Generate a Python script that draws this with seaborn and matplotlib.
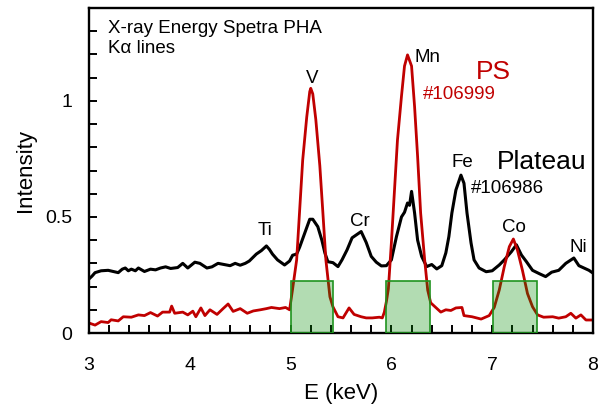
import matplotlib
matplotlib.use("Agg")
import matplotlib.pyplot as plt
from matplotlib.patches import Rectangle
from matplotlib.ticker import MultipleLocator, FixedLocator
import pandas as pd
import seaborn as sns

# ---------------- data ----------------
energy_plateau = [3.00, 3.03, 3.06, 3.12, 3.19, 3.24, 3.29, 3.33, 3.36, 3.39, 3.42, 3.46,
                  3.49, 3.55, 3.61, 3.66, 3.71, 3.76, 3.81, 3.88, 3.93, 3.98, 4.05, 4.10,
                  4.17, 4.22, 4.28, 4.34, 4.40, 4.45, 4.50, 4.55, 4.59, 4.66, 4.71, 4.76,
                  4.79, 4.82, 4.87, 4.94, 4.99, 5.02, 5.06, 5.09, 5.14, 5.19, 5.22, 5.27,
                  5.31, 5.34, 5.37, 5.42, 5.47, 5.51, 5.56, 5.61, 5.66, 5.70, 5.75, 5.80,
                  5.85, 5.90, 5.95, 6.00, 6.05, 6.10, 6.13, 6.16, 6.18, 6.20, 6.23, 6.26,
                  6.30, 6.35, 6.40, 6.45, 6.50, 6.54, 6.57, 6.60, 6.64, 6.69, 6.72, 6.75,
                  6.79, 6.82, 6.87, 6.94, 7.00, 7.07, 7.12, 7.19, 7.24, 7.29, 7.34, 7.40,
                  7.47, 7.53, 7.59, 7.66, 7.73, 7.81, 7.86, 7.91, 7.96, 8.00]
intensity_plateau = [0.233, 0.245, 0.260, 0.268, 0.270, 0.265, 0.260, 0.275, 0.280, 0.268, 0.275, 0.268,
                     0.280, 0.265, 0.275, 0.272, 0.280, 0.285, 0.278, 0.282, 0.300, 0.280, 0.305, 0.300,
                     0.280, 0.285, 0.300, 0.295, 0.290, 0.300, 0.292, 0.300, 0.310, 0.340, 0.355, 0.375,
                     0.360, 0.340, 0.315, 0.293, 0.310, 0.335, 0.340, 0.370, 0.430, 0.490, 0.490, 0.458,
                     0.400, 0.345, 0.307, 0.303, 0.286, 0.315, 0.358, 0.410, 0.425, 0.437, 0.390, 0.330,
                     0.305, 0.289, 0.290, 0.315, 0.415, 0.500, 0.520, 0.560, 0.550, 0.610, 0.517, 0.400,
                     0.330, 0.286, 0.295, 0.276, 0.290, 0.345, 0.415, 0.517, 0.616, 0.680, 0.645, 0.517,
                     0.388, 0.315, 0.280, 0.264, 0.268, 0.293, 0.315, 0.350, 0.380, 0.336, 0.307, 0.270,
                     0.255, 0.243, 0.262, 0.270, 0.300, 0.323, 0.290, 0.280, 0.270, 0.258]

energy_ps = [3.00, 3.06, 3.12, 3.19, 3.22, 3.29, 3.34, 3.42, 3.49, 3.55, 3.61, 3.68,
             3.73, 3.80, 3.82, 3.85, 3.93, 3.98, 4.03, 4.06, 4.11, 4.15, 4.20, 4.27,
             4.33, 4.38, 4.43, 4.50, 4.57, 4.63, 4.70, 4.76, 4.81, 4.89, 4.95, 4.99,
             5.02, 5.06, 5.09, 5.12, 5.16, 5.19, 5.20, 5.22, 5.25, 5.29, 5.32, 5.35,
             5.39, 5.42, 5.47, 5.52, 5.58, 5.63, 5.70, 5.75, 5.81, 5.88, 5.91, 5.93,
             5.95, 5.97, 6.00, 6.03, 6.06, 6.10, 6.13, 6.16, 6.20, 6.23, 6.26, 6.29,
             6.33, 6.36, 6.39, 6.44, 6.49, 6.54, 6.59, 6.64, 6.70, 6.72, 6.80, 6.89,
             6.97, 7.02, 7.07, 7.12, 7.17, 7.21, 7.25, 7.30, 7.35, 7.40, 7.45, 7.51,
             7.60, 7.66, 7.73, 7.78, 7.83, 7.88, 7.93, 8.00]
intensity_ps = [0.043, 0.034, 0.049, 0.045, 0.057, 0.052, 0.070, 0.068, 0.078, 0.075, 0.088, 0.073,
                0.090, 0.090, 0.116, 0.085, 0.090, 0.078, 0.094, 0.070, 0.108, 0.075, 0.100, 0.080,
                0.105, 0.125, 0.093, 0.105, 0.085, 0.095, 0.100, 0.105, 0.110, 0.105, 0.110, 0.100,
                0.190, 0.315, 0.530, 0.745, 0.930, 1.040, 1.054, 1.030, 0.920, 0.720, 0.520, 0.315,
                0.156, 0.113, 0.070, 0.065, 0.108, 0.080, 0.070, 0.065, 0.065, 0.068, 0.065, 0.090,
                0.135, 0.190, 0.390, 0.610, 0.830, 1.020, 1.150, 1.198, 1.150, 0.975, 0.760, 0.517,
                0.315, 0.185, 0.130, 0.110, 0.090, 0.100, 0.097, 0.108, 0.110, 0.075, 0.070, 0.060,
                0.075, 0.110, 0.185, 0.286, 0.372, 0.405, 0.358, 0.270, 0.170, 0.113, 0.078, 0.068,
                0.070, 0.064, 0.070, 0.085, 0.064, 0.078, 0.056, 0.056]

window_lo = [5.00, 5.95, 7.01]
window_hi = [5.42, 6.38, 7.44]
window_top = [0.224, 0.224, 0.224]

x_ticks = [3, 4, 5, 6, 7, 8]
x_tick_labels = ["3", "4", "5", "6", "7", "8"]
y_ticks = [0, 0.5, 1]
y_tick_labels = ["0", "0.5", "1"]

# ---------------- styling ----------------
sns.set_style("ticks")
plt.rcParams["font.family"] = ["Liberation Sans", "DejaVu Sans"]
plt.rcParams["text.color"] = "black"
plt.rcParams["axes.labelcolor"] = "black"
plt.rcParams["xtick.color"] = "black"
plt.rcParams["ytick.color"] = "black"
plt.rcParams["axes.edgecolor"] = "black"

RED = "#c00000"

fig = plt.figure(figsize=(6.03, 4.05), dpi=100)
ax = fig.add_axes([89 / 603, 72 / 405, 504 / 603, 325 / 405])

df_plateau = pd.DataFrame({"E": energy_plateau, "I": intensity_plateau})
df_ps = pd.DataFrame({"E": energy_ps, "I": intensity_ps})

sns.lineplot(data=df_plateau, x="E", y="I", ax=ax, color="black",
             linewidth=2.2, estimator=None, zorder=2)
sns.lineplot(data=df_ps, x="E", y="I", ax=ax, color=RED,
             linewidth=2.0, estimator=None, zorder=2)

for lo, hi, top in zip(window_lo, window_hi, window_top):
    ax.add_patch(Rectangle((lo, 0), hi - lo, top,
                           facecolor=(0.0, 0.55, 0.0, 0.30),
                           edgecolor="#1f931f", linewidth=1.2, zorder=3))

ax.set_xlim(3, 8)
ax.set_ylim(0, 1.4)

ax.xaxis.set_major_locator(FixedLocator(x_ticks))
ax.xaxis.set_minor_locator(MultipleLocator(0.2))
ax.yaxis.set_major_locator(FixedLocator(y_ticks))
ax.yaxis.set_minor_locator(MultipleLocator(0.1))
ax.set_xticklabels(x_tick_labels)
ax.set_yticklabels(y_tick_labels)

ax.tick_params(which="both", direction="in", length=6, width=1.4,
               top=False, right=False, colors="black", labelcolor="black")
ax.tick_params(axis="x", which="major", pad=17, labelsize=14)
ax.tick_params(axis="y", which="major", pad=12, labelsize=14)

for s in ax.spines.values():
    s.set_visible(True)
    s.set_linewidth(1.7)
    s.set_color("black")

ax.set_xlabel("E (keV)", fontsize=16, color="black")
ax.set_ylabel("Intensity", fontsize=16, color="black")
ax.xaxis.label.set_va("center")
ax.yaxis.label.set_va("center")
ax.xaxis.set_label_coords(0.5, (333 - 393) / 325)
ax.yaxis.set_label_coords((25 - 89) / 504, 0.5)

# annotations
ax.text(3.19, 1.293, "X-ray Energy Spetra PHA", fontsize=13.5, ha="left", va="baseline", color="black")
ax.text(3.19, 1.206, "K\u03b1 lines", fontsize=13.5, ha="left", va="baseline", color="black")

elem = dict(fontsize=13.5, ha="center", va="baseline", color="black")
ax.text(5.218, 1.079, "V", **elem)
ax.text(6.361, 1.169, "Mn", **elem)
ax.text(6.703, 0.717, "Fe", **elem)
ax.text(4.748, 0.422, "Ti", **elem)
ax.text(5.683, 0.461, "Cr", **elem)
ax.text(7.213, 0.434, "Co", **elem)
ax.text(7.851, 0.350, "Ni", **elem)

ax.text(7.015, 1.095, "PS", fontsize=19, color=RED, ha="center", va="baseline")
ax.text(6.673, 1.007, "#106999", fontsize=13.5, color=RED, ha="center", va="baseline")
ax.text(7.495, 0.705, "Plateau", fontsize=19, color="black", ha="center", va="baseline")
ax.text(7.149, 0.602, "#106986", fontsize=13.5, color="black", ha="center", va="baseline")

fig.savefig("out.png", dpi=100)
